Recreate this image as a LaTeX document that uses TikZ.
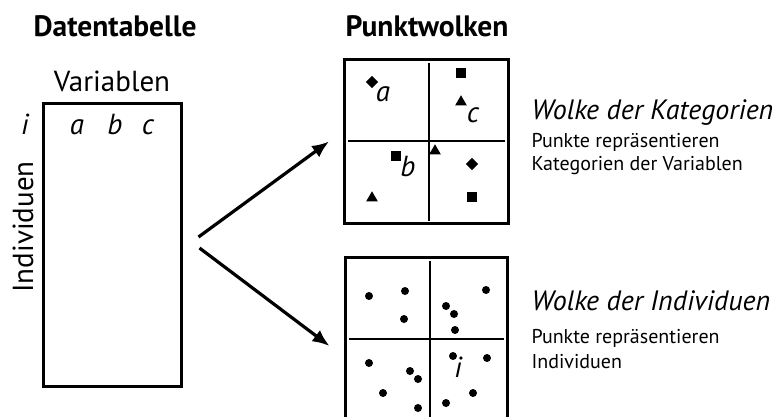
\documentclass[tikz,border=0pt]{standalone}
\usepackage{fontspec}
\setmainfont{PT Sans}
\usetikzlibrary{shapes.geometric,arrows.meta}

\begin{document}
\begin{tikzpicture}[x=1pt,y=-1pt,
        frame/.style={draw, line width=3pt, inner sep=0pt},
        divider/.style={line width=1.3pt},
        arrow/.style={-{Latex[length=17pt,width=14pt]}, line width=3.2pt},
        sq/.style={fill, minimum size=10pt, inner sep=0pt},
        dia/.style={fill, diamond, minimum size=12.5pt, inner sep=0pt},
        tri/.style={fill, regular polygon, regular polygon sides=3, minimum size=13.5pt, inner sep=0pt},
        headfont/.style={font=\fontsize{29.5}{32}\selectfont\bfseries},
        bigfont/.style={font=\fontsize{29}{32}\selectfont},
        letter/.style={font=\fontsize{29}{32}\selectfont\itshape},
        titlefont/.style={font=\fontsize{28}{32}\selectfont\itshape},
        notefont/.style={font=\fontsize{20}{24}\selectfont}]
        \path[use as bounding box, clip] (0,0) rectangle (781,417);

        \node[anchor=base west, headfont] (tabtitle) at (30,37) {Datentabelle};
        \node[anchor=base west, headfont] (cloudtitle) at (342,37) {Punktwolken};

        % data table
        \node[frame, minimum width=138pt, minimum height=282pt] (table) at (112,245) {};
        \node[anchor=base, bigfont] (varlabel) at (112,92) {Variablen};
        \node[anchor=base, bigfont, rotate=90] (indlabel) at (33,227) {Individuen};
        \node[anchor=base, letter] (rowi) at (25,135) {i};
        \node[anchor=base, letter] (cola) at (77,135) {a};
        \node[anchor=base, letter] (colb) at (115,135) {b};
        \node[anchor=base, letter] (colc) at (148,135) {c};

        % clouds
        \node[frame, minimum size=164pt] (catcloud) at (426.5,141.5) {};
        \node[frame, minimum width=162pt, minimum height=164pt] (indcloud) at (426,339) {};
        \draw[divider] (348,141) -- (505,141);
        \draw[divider] (429,63) -- (429,221);
        \draw[divider] (349,339) -- (504,339);
        \draw[divider] (430,261) -- (430,420);

        \draw[arrow] ([shift={(16,-8)}]table.east) -- ([xshift=-14pt]catcloud.west);
        \draw[arrow] ([shift={(17,3)}]table.east) -- ([shift={(-14,7)}]indcloud.west);

        % categories
        \foreach \x/\y in {372/82, 472/164} \node[dia] at (\x,\y) {};
        \foreach \x/\y in {461/73, 396/156, 472/197} \node[sq] at (\x,\y) {};
        \foreach \x/\y in {461/102, 435/151, 372/198} \node[tri] at (\x,\y) {};
        \node[anchor=base, letter] (cata) at (383,102) {a};
        \node[anchor=base, letter] (catb) at (408,176) {b};
        \node[anchor=base, letter] (catc) at (473,122) {c};

        % individuals
        \foreach \x/\y in {369/296, 405/291, 404/319, 486/290, 446/306, 454/314, 455/330,
                369/363, 410/371, 418/379, 383/393, 418/408, 453/356, 487/358, 473/393, 446/403}
                \fill (\x,\y) circle (4pt);
        \node[anchor=base, letter] (indi) at (458,377) {i};

        \node[anchor=base west, titlefont] (cattitle) at (528,120) {Wolke der Kategorien};
        \node[anchor=base west, notefont] (catnote1) at (528,147) {Punkte repräsentieren};
        \node[anchor=base west, notefont] (catnote2) at (528,170) {Kategorien der Variablen};
        \node[anchor=base west, titlefont] (indtitle) at (528,310) {Wolke der Individuen};
        \node[anchor=base west, notefont] (indnote1) at (528,343) {Punkte repräsentieren};
        \node[anchor=base west, notefont] (indnote2) at (528,368) {Individuen};
\end{tikzpicture}
\end{document}
